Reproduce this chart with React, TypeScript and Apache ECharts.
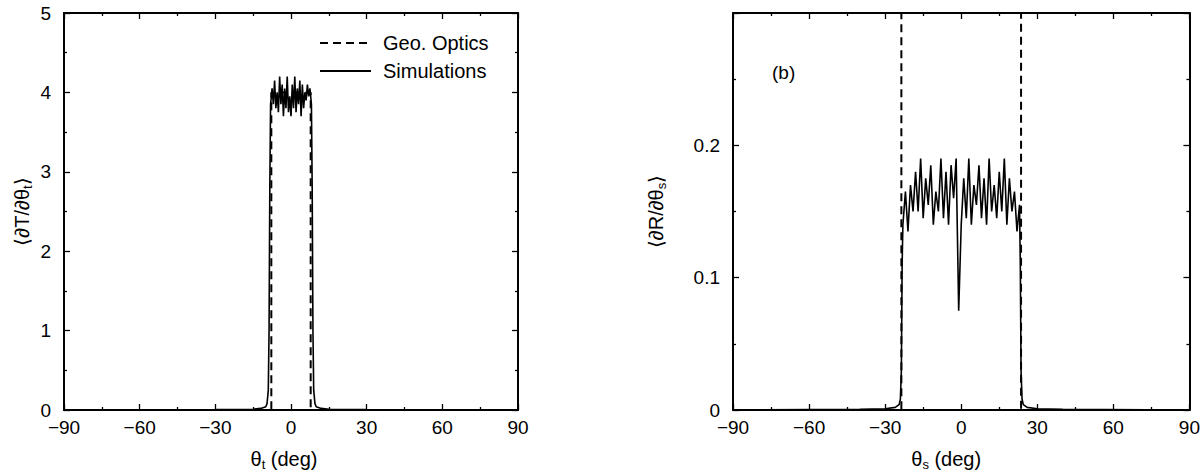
import React, { useEffect, useRef } from "react";
import * as echarts from "echarts";

// ---- data ----
const xTicks = [-90, -60, -30, 0, 30, 60, 90];
const legendNames = ["Geo. Optics", "Simulations"];

const leftGeoX = [-90, -7.8, -7.8, 7.8, 7.8, 90];
const leftGeoY = [0, 0, 4, 4, 0, 0];

const leftSimX = [
  -90, -30, -15, -12, -10, -9.5, -9, -8.7, -8.4, -8.1,
  -7.5, -7, -6.5, -6, -5.5, -5, -4.5, -4, -3.5, -3, -2.5, -2, -1.5, -1, -0.5,
  0, 0.5, 1, 1.5, 2, 2.5, 3, 3.5, 4, 4.5, 5, 5.5, 6, 6.5, 7, 7.5,
  8.1, 8.4, 8.7, 9, 9.5, 10, 12, 15, 30, 90,
];
const leftSimY = [
  0, 0.005, 0.01, 0.02, 0.04, 0.08, 0.25, 1.0, 2.8, 3.85,
  4.05, 3.85, 4.15, 3.8, 4.0, 3.75, 4.2, 3.85, 4.1, 3.7, 4.05, 3.8, 4.2, 3.75, 3.95,
  3.7, 4.1, 3.8, 4.2, 3.75, 4.05, 3.85, 4.15, 3.7, 4.1, 3.8, 4.0, 3.9, 4.1, 3.95, 4.05,
  3.85, 2.8, 1.0, 0.25, 0.08, 0.04, 0.02, 0.01, 0.005, 0,
];

const rightGeoLeftX = [-90, -23.6, -23.6];
const rightGeoLeftY = [0, 0, 0.4];
const rightGeoRightX = [23.6, 23.6, 90];
const rightGeoRightY = [0.4, 0, 0];

const rightSimX = [
  -90, -40, -30, -26, -24.5, -24, -23.6, -23.3,
  -23, -22, -21, -20, -19, -18, -17, -16, -15, -14, -13, -12, -11, -10, -9, -8,
  -7, -6, -5, -4, -3, -2, -1, 0, 1, 2, 3, 4, 5, 6, 7, 8, 9, 10, 11, 12, 13, 14,
  15, 16, 17, 18, 19, 20, 21, 22, 23,
  23.3, 23.6, 24, 24.5, 26, 30, 40, 90,
];
const rightSimY = [
  0, 0.0005, 0.001, 0.002, 0.004, 0.008, 0.03, 0.11,
  0.14, 0.165, 0.135, 0.17, 0.15, 0.18, 0.15, 0.19, 0.145, 0.175, 0.155, 0.185, 0.14, 0.165, 0.15, 0.19,
  0.145, 0.18, 0.14, 0.185, 0.16, 0.19, 0.075, 0.14, 0.175, 0.145, 0.19, 0.14, 0.17, 0.155, 0.185, 0.145, 0.175, 0.14, 0.19, 0.15, 0.17, 0.145,
  0.18, 0.15, 0.19, 0.14, 0.175, 0.15, 0.165, 0.135, 0.155,
  0.11, 0.03, 0.008, 0.004, 0.002, 0.001, 0.0005, 0,
];

const FONT = "'Liberation Sans', Arial, Helvetica, sans-serif";

const zip = (xs: number[], ys: number[]) => xs.map((x, i) => [x, ys[i]]);
const minusFmt = (v: number) => (v < 0 ? "\u2212" + Math.abs(v) : String(v));

const subRich = { sub: { fontFamily: FONT, fontSize: 13, color: "#000", padding: [12, 0, 0, 0] } };

function xAxisPair(gridIndex: number, name: string, shift: number) {
  const common = {
    type: "value",
    gridIndex,
    min: xTicks[0],
    max: xTicks[xTicks.length - 1],
    interval: 30,
    splitLine: { show: false },
    axisLine: { onZero: false, lineStyle: { color: "#000", width: 2 } },
    axisTick: { inside: true, length: 6, lineStyle: { color: "#000", width: 1.3 } },
    minorTick: { show: true, splitNumber: 2, length: 3, lineStyle: { color: "#000", width: 1.3 } },
  };
  return [
    {
      ...common,
      position: "bottom",
      name,
      nameLocation: "middle",
      nameGap: 36,
      nameTextStyle: {
        fontFamily: FONT,
        fontSize: 20,
        color: "#000",
        padding: [0, shift, 0, 0],
        rich: subRich,
      },
      axisLabel: { fontFamily: FONT, fontSize: 19, color: "#000", margin: 8, formatter: minusFmt },
    },
    { ...common, position: "top", axisLabel: { show: false } },
  ];
}

function yAxisPair(gridIndex: number, max: number, interval: number, name: string, nameGap: number, hideTop: boolean) {
  const common = {
    type: "value",
    gridIndex,
    min: 0,
    max,
    interval,
    splitLine: { show: false },
    axisLine: { show: true, onZero: false, lineStyle: { color: "#000", width: 2 } },
    axisTick: { show: true, inside: true, length: 6, lineStyle: { color: "#000", width: 1.3 } },
    minorTick: { show: true, splitNumber: 2, length: 3, lineStyle: { color: "#000", width: 1.3 } },
  };
  return [
    {
      ...common,
      position: "left",
      name,
      nameLocation: "middle",
      nameRotate: 90,
      nameGap,
      nameTextStyle: { fontFamily: FONT, fontSize: 20, color: "#000", rich: subRich },
      axisLabel: {
        fontFamily: FONT,
        fontSize: 19,
        color: "#000",
        margin: 13,
        formatter: (v: number) => (hideTop && v > max - 1e-9 ? "" : String(Math.round(v * 100) / 100)),
      },
    },
    { ...common, position: "right", axisLabel: { show: false } },
  ];
}

export default function App() {
  const ref = useRef<HTMLDivElement>(null);
  useEffect(() => {
    if (!ref.current) return;
    const chart = echarts.init(ref.current, undefined, { renderer: "svg" });
    const lx = xAxisPair(0, "\u03B8{sub|t} (deg)", 14);
    const rx = xAxisPair(1, "\u03B8{sub|s} (deg)", 30);
    const ly = yAxisPair(0, 5, 1, "\u27E8\u2202T/\u2202\u03B8{sub|t}\u27E9", 30, false);
    const ry = yAxisPair(1, 0.3, 0.1, "\u27E8\u2202R/\u2202\u03B8{sub|s}\u27E9", 65, true);
    const dashed = { color: "#000", width: 2, type: [8, 5] as any };
    const solid = { color: "#000", width: 1.6 };
    chart.setOption({
      animation: false,
      backgroundColor: "#fff",
      textStyle: { fontFamily: FONT },
      grid: [
        { left: 64, top: 13, width: 454, height: 400 },
        { left: 733, top: 13, width: 457, height: 398 },
      ],
      xAxis: [lx[0], lx[1], rx[0], rx[1]],
      yAxis: [ly[0], ly[1], ry[0], ry[1]],
      graphic: [
        {
          type: "line",
          shape: { x1: 320, y1: 43, x2: 371, y2: 43 },
          style: { stroke: "#000", lineWidth: 2.2, lineDash: [8, 5] },
        },
        {
          type: "line",
          shape: { x1: 320, y1: 71, x2: 371, y2: 71 },
          style: { stroke: "#000", lineWidth: 1.8 },
        },
        {
          type: "text",
          x: 383,
          y: 43,
          style: { text: legendNames[0], fontFamily: FONT, fontSize: 20, fill: "#000", verticalAlign: "middle" },
        },
        {
          type: "text",
          x: 383,
          y: 71,
          style: { text: legendNames[1], fontFamily: FONT, fontSize: 20, fill: "#000", verticalAlign: "middle" },
        },
        {
          type: "text",
          x: 772,
          y: 72,
          style: { text: "(b)", fontFamily: FONT, fontSize: 19, fill: "#000", verticalAlign: "middle" },
        },
      ],
      series: [
        {
          name: legendNames[0],
          type: "line",
          xAxisIndex: 0,
          yAxisIndex: 0,
          symbol: "none",
          lineStyle: dashed,
          data: zip(leftGeoX, leftGeoY),
        },
        {
          name: legendNames[1],
          type: "line",
          xAxisIndex: 0,
          yAxisIndex: 0,
          symbol: "none",
          lineStyle: solid,
          data: zip(leftSimX, leftSimY),
        },
        {
          name: legendNames[0],
          type: "line",
          xAxisIndex: 2,
          yAxisIndex: 2,
          symbol: "none",
          lineStyle: dashed,
          data: zip(rightGeoLeftX, rightGeoLeftY),
        },
        {
          name: legendNames[0],
          type: "line",
          xAxisIndex: 2,
          yAxisIndex: 2,
          symbol: "none",
          lineStyle: dashed,
          data: zip(rightGeoRightX, rightGeoRightY),
        },
        {
          name: legendNames[1],
          type: "line",
          xAxisIndex: 2,
          yAxisIndex: 2,
          symbol: "none",
          lineStyle: solid,
          data: zip(rightSimX, rightSimY),
        },
      ],
    });
    return () => chart.dispose();
  }, []);
  return (
    <div
      ref={ref}
      style={{ position: "fixed", left: 0, top: 0, width: 1203, height: 476, background: "#fff" }}
    />
  );
}
